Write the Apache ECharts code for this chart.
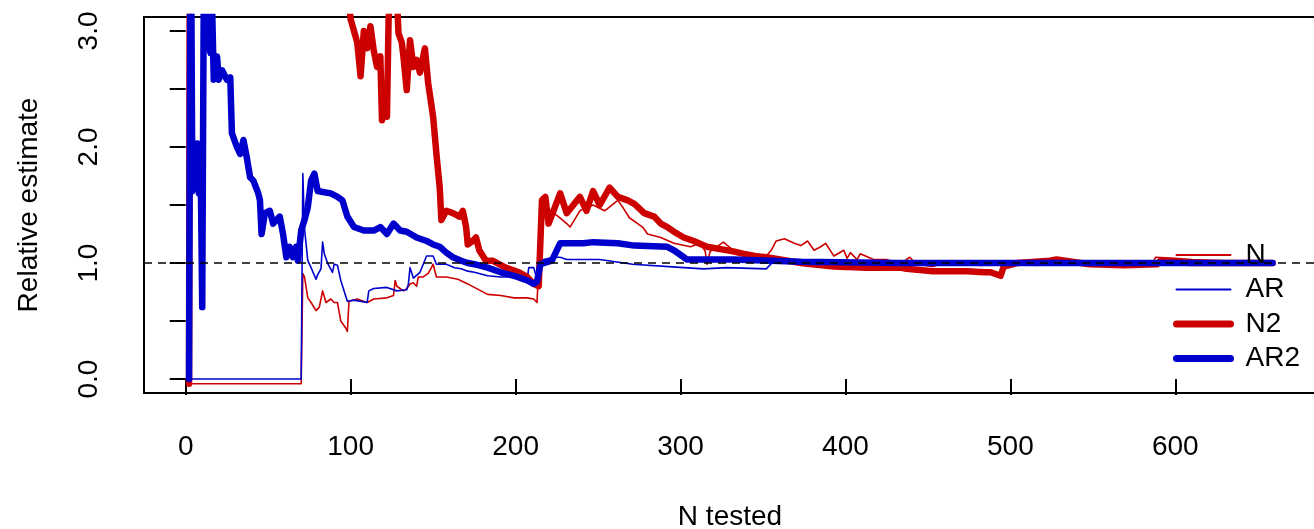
<!DOCTYPE html>
<html>
<head>
<meta charset="utf-8">
<script src="https://cdn.jsdelivr.net/npm/echarts@6/dist/echarts.min.js"></script>
<style>
  html, body { margin: 0; padding: 0; background: #fff; }
  #chart { width: 1314px; height: 529px; }
</style>
</head>
<body>
<div id="chart"></div>
<script>
// [N tested, relative estimate]
var nData = [
  [1, 6.0], [2, -0.04], [70, -0.04], [71, 0.91], [72, 0.88], [74, 0.70], [76, 0.66], [79, 0.59],
  [81, 0.62], [83, 0.76], [85, 0.66], [88, 0.69], [90, 0.66], [92, 0.66], [94, 0.50], [97, 0.44],
  [98, 0.41], [99, 0.67], [104, 0.69], [110, 0.66], [114, 0.69], [122, 0.70], [126, 0.72], [127, 0.85],
  [128, 0.80], [132, 0.76], [134, 0.78], [136, 0.82], [138, 0.83], [140, 0.80], [141, 0.88], [144, 0.88],
  [147, 0.91], [149, 0.96], [150, 0.99], [152, 0.88], [158, 0.88], [165, 0.86], [171, 0.82], [179, 0.76],
  [183, 0.73], [191, 0.72], [199, 0.70], [207, 0.70], [211, 0.69], [213, 0.66], [214, 0.67], [216, 1.57],
  [221, 1.45], [226, 1.40], [231, 1.34], [233, 1.31], [239, 1.45], [247, 1.50], [254, 1.45], [262, 1.54],
  [265, 1.48], [269, 1.39], [277, 1.31], [280, 1.25], [288, 1.22], [296, 1.17], [306, 1.14], [312, 1.17],
  [315, 1.10], [316, 0.99], [318, 1.10], [326, 1.18], [332, 1.11], [342, 1.09], [352, 1.06], [355, 1.11],
  [358, 1.19], [363, 1.21], [369, 1.17], [373, 1.15], [377, 1.19], [381, 1.11], [385, 1.14], [388, 1.17],
  [393, 1.06], [399, 1.11], [401, 1.04], [403, 1.09], [407, 1.03], [409, 1.08], [417, 1.03], [425, 1.03],
  [433, 0.99], [439, 1.05], [443, 0.99], [453, 0.97], [462, 1.01], [474, 1.00], [482, 0.98], [490, 1.00],
  [498, 0.97], [505, 1.00], [515, 0.98], [525, 1.01], [535, 1.00], [548, 0.98], [560, 1.00], [572, 0.99],
  [586, 0.99], [588, 1.05], [600, 1.04], [610, 1.03], [630, 1.02], [645, 1.01], [658, 1.00]
];

var arData = [
  [1, 0], [70, 0], [71, 1.77], [72, 1.30], [74, 1.02], [76, 0.96], [79, 0.86], [80, 0.90], [82, 0.95],
  [83, 1.18], [84, 1.08], [86, 1.00], [89, 0.92], [90, 0.99], [92, 0.98], [94, 0.85], [98, 0.67],
  [102, 0.68], [110, 0.66], [111, 0.76], [114, 0.78], [122, 0.79], [128, 0.76], [134, 0.77], [135, 0.82],
  [136, 0.96], [138, 0.87], [142, 0.92], [144, 0.99], [146, 1.06], [150, 1.06], [152, 0.99], [158, 0.99],
  [163, 0.96], [167, 0.95], [171, 0.93], [175, 0.92], [183, 0.89], [191, 0.88], [199, 0.88], [207, 0.86],
  [208, 0.96], [211, 0.96], [213, 0.86], [214, 0.99], [217, 1.03], [223, 1.05], [227, 1.05], [231, 1.03],
  [251, 1.03], [271, 0.99], [302, 0.96], [314, 0.95], [328, 0.96], [352, 0.95], [356, 1.01], [400, 1.00],
  [500, 1.00], [600, 1.00], [658, 1.00]
];

var n2Data = [
  [2, -0.04], [3, 8], [98, 5], [99, 3.25], [100, 3.10], [102, 3.00], [104, 2.90], [106, 2.61], [108, 3.00],
  [110, 2.85], [112, 3.04], [114, 2.83], [116, 2.69], [118, 2.78], [119, 2.23], [120, 2.40], [122, 2.26],
  [123, 3.10], [124, 3.30], [128, 3.30], [129, 2.98], [131, 2.90], [132, 2.78], [134, 2.49], [136, 2.92],
  [138, 2.69], [140, 2.75], [142, 2.64], [145, 2.85], [147, 2.55], [150, 2.26], [152, 1.94], [154, 1.65],
  [155, 1.37], [158, 1.45], [162, 1.43], [166, 1.40], [168, 1.45], [170, 1.31], [171, 1.16], [174, 1.19],
  [176, 1.22], [178, 1.11], [182, 1.02], [186, 1.02], [190, 0.99], [194, 0.96], [202, 0.92], [207, 0.88],
  [211, 0.82], [214, 0.80], [216, 1.54], [218, 1.57], [220, 1.34], [223, 1.45], [227, 1.60], [231, 1.43],
  [235, 1.50], [239, 1.57], [243, 1.45], [247, 1.62], [251, 1.50], [257, 1.65], [262, 1.57], [268, 1.54],
  [272, 1.51], [278, 1.43], [284, 1.40], [288, 1.34], [292, 1.31], [296, 1.27], [302, 1.22], [308, 1.19],
  [316, 1.14], [332, 1.10], [344, 1.06], [352, 1.05], [365, 1.02], [373, 1.00], [393, 0.97], [413, 0.96],
  [433, 0.96], [437, 0.95], [453, 0.93], [474, 0.93], [484, 0.92], [488, 0.92], [494, 0.89], [496, 0.97],
  [504, 1.00], [524, 1.02], [528, 1.03], [548, 0.99], [569, 0.98], [589, 0.99], [591, 1.02], [609, 1.00],
  [659, 1.00]
];

var ar2Data = [
  [2, 0], [3, 4.5], [4, 1.62], [5, 2.00], [6, 1.65], [7, 2.03], [8, 1.60], [9, 1.90], [10, 0.62],
  [11, 3.5], [13, 3.3], [14, 2.89], [15, 2.81], [16, 3.2], [17, 2.58], [19, 2.78], [20, 2.58], [22, 2.66],
  [25, 2.58], [27, 2.60], [28, 2.12], [31, 2.00], [33, 1.94], [35, 2.06], [37, 1.91], [39, 1.74], [41, 1.71],
  [44, 1.60], [45, 1.54], [46, 1.25], [48, 1.43], [51, 1.45], [53, 1.34], [57, 1.40], [59, 1.25], [61, 1.05],
  [63, 1.14], [65, 1.05], [67, 1.14], [68, 1.02], [70, 1.28], [72, 1.37], [74, 1.48], [76, 1.71], [78, 1.77],
  [80, 1.62], [84, 1.61], [88, 1.60], [92, 1.57], [95, 1.54], [98, 1.40], [102, 1.31], [108, 1.28],
  [114, 1.28], [118, 1.31], [122, 1.25], [126, 1.34], [130, 1.28], [134, 1.27], [140, 1.22], [146, 1.19],
  [150, 1.16], [154, 1.14], [158, 1.09], [162, 1.05], [167, 1.02], [171, 1.00], [175, 0.99], [183, 0.96],
  [191, 0.92], [199, 0.89], [207, 0.85], [211, 0.82], [213, 0.84], [215, 0.99], [222, 1.02], [226, 1.14],
  [227, 1.17], [241, 1.17], [247, 1.18], [262, 1.17], [272, 1.15], [292, 1.14], [296, 1.11], [302, 1.05],
  [304, 1.03], [332, 1.03], [373, 1.01], [433, 1.00], [500, 1.00], [600, 1.00], [659, 1.00]
];

var xTicks = [0, 100, 200, 300, 400, 500, 600];
var yTicks = [0, 0.5, 1, 1.5, 2, 2.5, 3];
var yLabels = [0, 1, 2, 3];

var RED = '#cd0000';
var BLUE = '#0000cd';
var FONT = 'Liberation Sans, Arial, sans-serif';
var THIN = 1.6;
var THICK = 6.5;

var myChart = echarts.init(document.getElementById('chart'));

function lineSeries(name, data, color, width) {
  return {
    name: name,
    type: 'line',
    data: data,
    symbol: 'none',
    clip: true,
    color: color,
    lineStyle: { color: color, width: width, cap: 'round', join: 'round' }
  };
}

var option = {
  animation: false,
  backgroundColor: '#fff',
  textStyle: { fontFamily: FONT },
  grid: {
    left: 144, right: -2, top: 17, bottom: 136,
    outerBoundsMode: 'none',
    containLabel: false,
    show: true, borderColor: '#000', borderWidth: 2
  },
  legend: {
    data: [
      { name: 'N', lineStyle: { width: 2 } },
      { name: 'AR', lineStyle: { width: 2 } },
      { name: 'N2', lineStyle: { width: 7 } },
      { name: 'AR2', lineStyle: { width: 7 } }
    ],
    orient: 'vertical',
    left: 1168,
    top: 236,
    itemWidth: 54,
    itemHeight: 28,
    itemGap: 6.5,
    itemStyle: { opacity: 0 },
    textStyle: { fontSize: 28, color: '#000', fontFamily: FONT, padding: [0, 0, 0, 10] }
  },
  xAxis: {
    type: 'value',
    min: -25.3,
    max: 685.3,
    name: 'N tested',
    nameLocation: 'middle',
    nameGap: 110,
    nameTextStyle: { fontSize: 28, color: '#000', fontFamily: FONT },
    axisLine: { show: false },
    splitLine: { show: false },
    axisTick: { customValues: xTicks, length: 16, lineStyle: { color: '#000', width: 2 } },
    axisLabel: { customValues: xTicks, fontSize: 28, color: '#000', margin: 40, fontFamily: FONT }
  },
  yAxis: {
    type: 'value',
    min: -0.12,
    max: 3.12,
    name: 'Relative estimate',
    nameLocation: 'middle',
    nameGap: 101,
    nameTextStyle: { fontSize: 28, color: '#000', fontFamily: FONT },
    axisLine: { show: false },
    splitLine: { show: false },
    axisTick: { customValues: yTicks, length: 16, lineStyle: { color: '#000', width: 2 } },
    axisLabel: {
      customValues: yLabels, rotate: 90, fontSize: 28, color: '#000', margin: 41, fontFamily: FONT,
      formatter: function (v) { return v.toFixed(1); }
    }
  },
  series: [
    lineSeries('N', nData, RED, THIN),
    lineSeries('AR', arData, BLUE, THIN),
    lineSeries('N2', n2Data, RED, THICK),
    lineSeries('AR2', ar2Data, BLUE, THICK),
    {
      name: 'ref',
      type: 'line',
      data: [],
      z: 5,
      markLine: {
        silent: true,
        symbol: ['none', 'none'],
        label: { show: false },
        lineStyle: { color: '#000', type: [8, 6], width: 1.6 },
        data: [{ yAxis: 1 }]
      }
    }
  ]
};

myChart.setOption(option);
</script>
</body>
</html>
